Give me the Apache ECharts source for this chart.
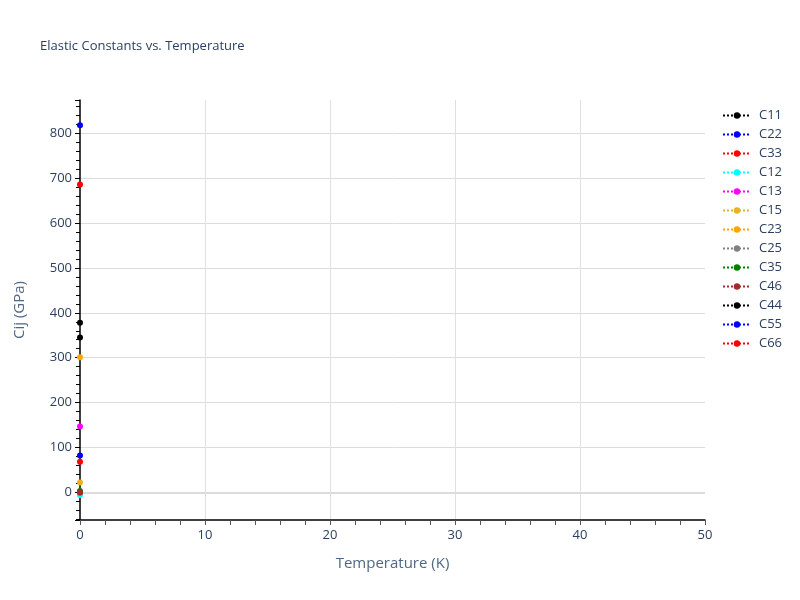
<!DOCTYPE html>
<html>
<head>
<meta charset="utf-8">
<script src="https://cdn.jsdelivr.net/npm/echarts@6/dist/echarts.min.js"></script>
<style>html,body{margin:0;padding:0;background:#fff}#c{width:800px;height:600px}</style>
</head>
<body>
<div id="c"></div>
<script>
const temperatures = [0];
const seriesNames = ['C11','C22','C33','C12','C13','C15','C23','C25','C35','C46','C44','C55','C66'];
const seriesColors = ['#000000','#0000ff','#ff0000','#00ffff','#ff00ff','#e6b422','#ffa500','#808080','#008000','#a52a2a','#000000','#0000ff','#ff0000'];
const C11 = [378];
const C22 = [818];
const C33 = [686];
const C12 = [-6];
const C13 = [147];
const C15 = [22];
const C23 = [301];
const C25 = [-1];
const C35 = [3];
const C46 = [0];
const C44 = [345];
const C55 = [82];
const C66 = [68];
const seriesValues = [C11,C22,C33,C12,C13,C15,C23,C25,C35,C46,C44,C55,C66];

const txt = '#2a3f5f';
const series = seriesNames.map((n, i) => {
  const s = {
    name: n,
    type: 'line',
    data: temperatures.map((t, j) => [t, seriesValues[i][j]]),
    symbol: 'circle',
    symbolSize: 6,
    color: seriesColors[i],
    lineStyle: { type: 'dotted', width: 2, color: seriesColors[i] },
    itemStyle: { color: seriesColors[i] },
    z: 3 + i
  };
  if (i === 0) {
    s.markLine = {
      silent: true,
      symbol: 'none',
      label: { show: false },
      lineStyle: { color: '#dcdcdc', width: 2, type: 'solid' },
      data: [{ yAxis: 0 }],
      z: 1
    };
  }
  return s;
});

const chart = echarts.init(document.getElementById('c'));
chart.setOption({
  animation: false,
  backgroundColor: '#fff',
  title: {
    text: 'Elastic Constants vs. Temperature',
    left: 35, top: 35,
    textStyle: { fontFamily: 'Open Sans, sans-serif', fontSize: 13, fontWeight: 'normal', color: txt }
  },
  grid: { left: 80, right: 95, top: 100, bottom: 80 },
  legend: {
    orient: 'vertical',
    left: 717, top: 104,
    itemGap: 6,
    itemWidth: 28, itemHeight: 8,
    textStyle: { fontFamily: 'Open Sans, sans-serif', fontSize: 13, color: txt, padding: [0, 0, 0, 3] },
    data: seriesNames
  },
  xAxis: {
    type: 'value',
    min: 0, max: 50, interval: 10,
    name: 'Temperature (K)',
    nameLocation: 'middle',
    nameGap: 36,
    nameTextStyle: { fontFamily: 'Open Sans, sans-serif', fontSize: 15, color: '#506784' },
    axisLine: { onZero: false, lineStyle: { color: '#000', width: 1.5 } },
    axisTick: { show: true, length: 5, lineStyle: { color: '#555' } },
    minorTick: { show: true, splitNumber: 5, length: 5, lineStyle: { color: '#555' } },
    axisLabel: { fontFamily: 'Open Sans, sans-serif', fontSize: 13, color: txt, margin: 9 },
    splitLine: { show: true, showMinLine: false, showMaxLine: false, lineStyle: { color: '#e0e0e0', width: 1 } }
  },
  yAxis: {
    type: 'value',
    min: -61.5, max: 874,
    splitNumber: 10,
    name: 'Cij (GPa)',
    nameLocation: 'middle',
    nameGap: 53,
    nameTextStyle: { fontFamily: 'Open Sans, sans-serif', fontSize: 15, color: '#506784' },
    axisLine: { show: true, onZero: false, lineStyle: { color: '#000', width: 1.5 } },
    axisTick: { show: true, length: 5, lineStyle: { color: '#000' } },
    minorTick: { show: true, splitNumber: 5, length: 4, lineStyle: { color: '#000' } },
    axisLabel: { fontFamily: 'Open Sans, sans-serif', fontSize: 13, color: txt, margin: 8, showMinLabel: false, showMaxLabel: false },
    splitLine: { show: true, showMinLine: false, showMaxLine: false, lineStyle: { color: '#dcdcdc', width: 1 } }
  },
  series: series
});
</script>
</body>
</html>
